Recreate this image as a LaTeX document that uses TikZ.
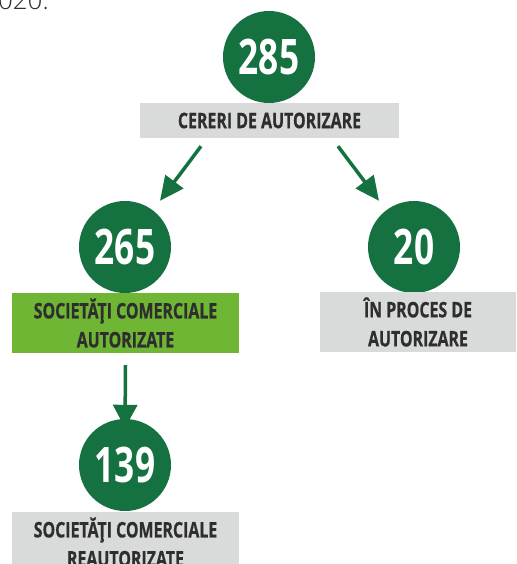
\documentclass[tikz,border=0pt]{standalone}
\usepackage{fontspec}
\setmainfont{Open Sans}
\newfontfamily\condbold[FakeStretch=0.74,FakeBold=0.6]{Open Sans Bold}
\newfontfamily\numbold[FakeStretch=0.72]{Open Sans Bold}
\newfontfamily\lightfont{Open Sans Light}
\usetikzlibrary{arrows.meta,positioning}
\definecolor{dkgreen}{HTML}{157140}
\definecolor{ltgreen}{HTML}{6FB634}
\definecolor{boxgray}{HTML}{D9DBDA}
\definecolor{txtgray}{HTML}{2E2E2E}
\tikzset{
  numcircle/.style={circle,fill=dkgreen,minimum size=92pt,inner sep=0pt,text=white,
    font={\numbold\fontsize{49}{49}\selectfont}},
  labelbox/.style={rectangle,fill=boxgray,inner sep=0pt,text=txtgray,align=center,
    font={\condbold\fontsize{21.5}{29}\selectfont}},
  greenbox/.style={labelbox,fill=ltgreen},
  arr/.style={draw=dkgreen,line width=3.5pt,-{Triangle[length=24pt,width=22pt]}}
}
\begin{document}
\begin{tikzpicture}[x=1pt,y=-1pt]
\useasboundingbox (0,0) rectangle (516,564);
\clip (0,0) rectangle (516,564);
\node[anchor=base west,text=txtgray,inner sep=0pt,font={\lightfont\fontsize{26}{26}\selectfont}] (prev) at (-17,10) {2020.};
\node[numcircle] (c285) at (269,57) {285};
\node[labelbox,minimum width=259pt,minimum height=35pt] (cereri) at (269.5,120.5) {CERERI DE AUTORIZARE};
\node[numcircle] (c265) at (125,247) {265};
\node[greenbox,minimum width=227pt,minimum height=60pt] (autoriz) at (125.5,323) {SOCIETĂŢI COMERCIALE\\AUTORIZATE};
\node[numcircle] (c20) at (414,247) {20};
\node[labelbox,minimum width=196pt,minimum height=60pt] (proces) at (418,322) {ÎN PROCES DE\\AUTORIZARE};
\node[numcircle] (c139) at (125,465) {139};
\node[labelbox,minimum width=227pt,minimum height=60pt] (reaut) at (125.5,542) {SOCIETĂŢI COMERCIALE\\REAUTORIZATE};
\draw[arr] ([xshift=-68.5pt,yshift=-8pt]cereri.south) -- ([xshift=35pt]c265.north);
\draw[arr] ([xshift=68.5pt,yshift=-8pt]cereri.south) -- ([xshift=-35pt]c20.north);
\draw[arr,-{Triangle[length=23pt,width=24pt]}] ([yshift=-12pt]autoriz.south) -- ([yshift=-9pt]c139.north);
\end{tikzpicture}
\end{document}
